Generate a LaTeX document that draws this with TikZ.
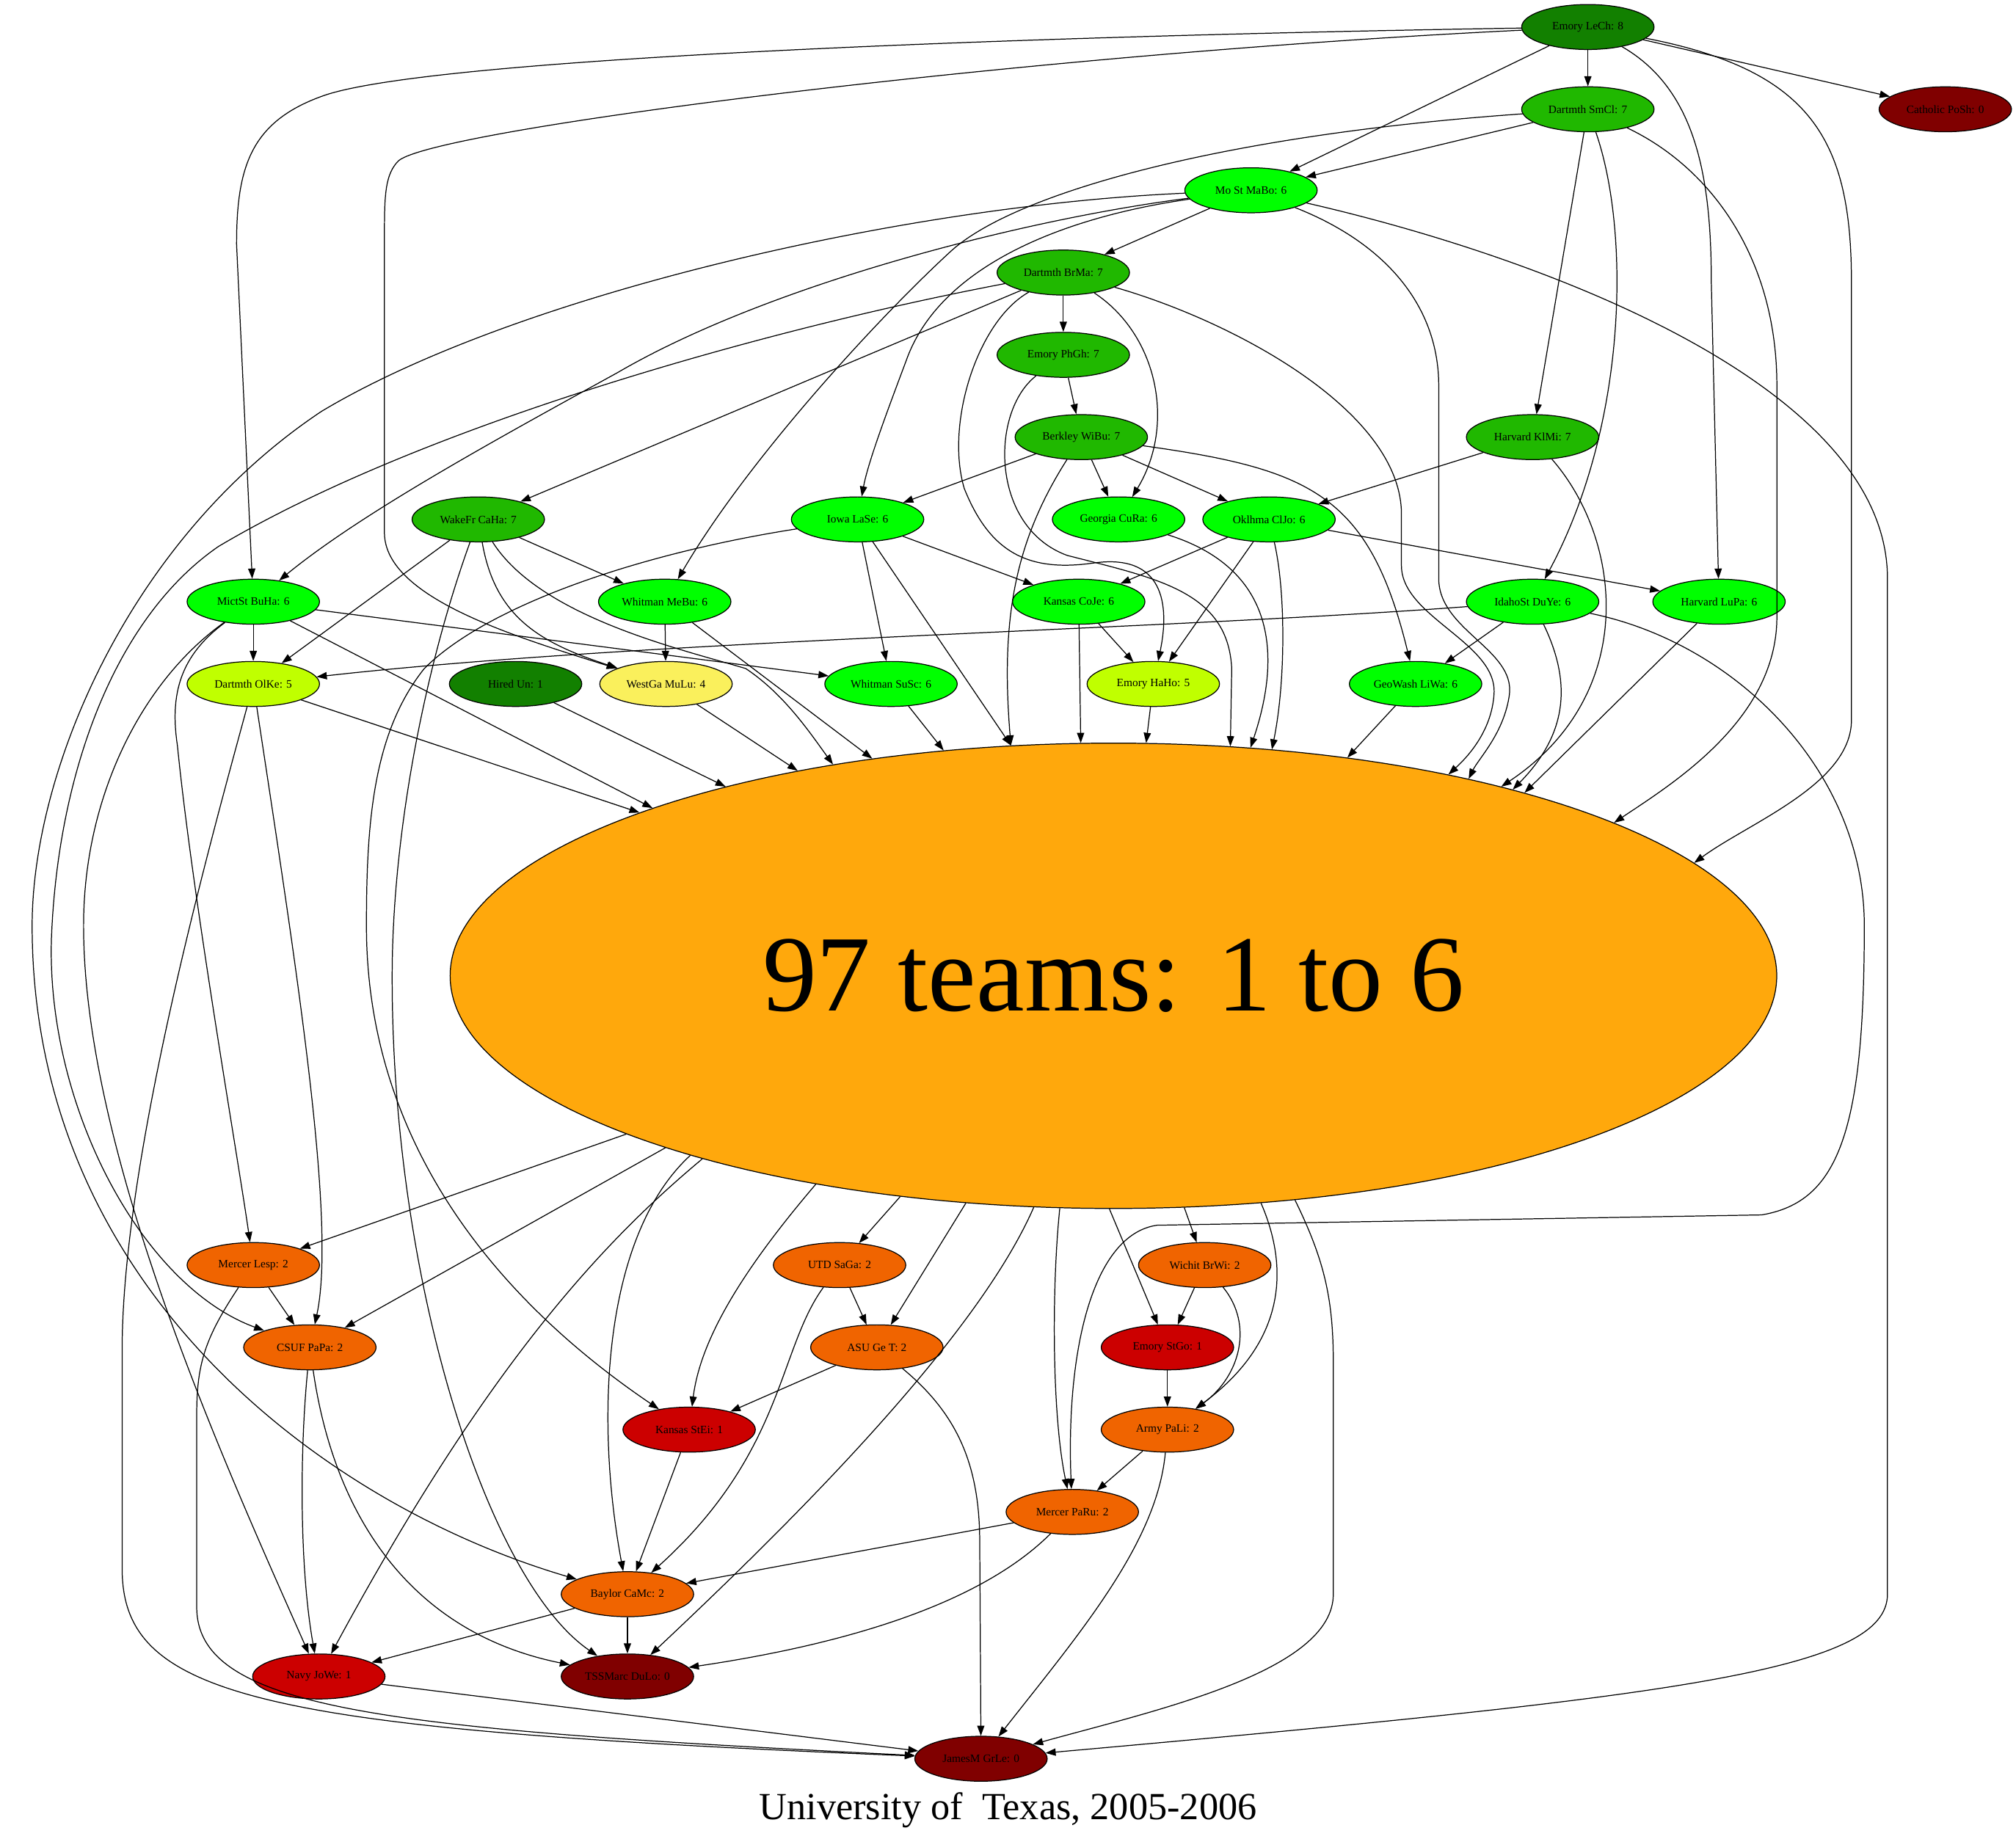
\documentclass[tikz,border=0pt]{standalone}
\usepackage{fontspec}
\setmainfont{Liberation Serif}
\usetikzlibrary{shapes.geometric,arrows.meta}
\definecolor{gvDkGreen}{RGB}{18,128,0}
\definecolor{gvGreen}{RGB}{32,184,0}
\definecolor{gvBright}{RGB}{0,255,0}
\definecolor{gvLime}{RGB}{192,255,0}
\definecolor{gvYellow}{RGB}{250,240,92}
\definecolor{gvPool}{RGB}{255,168,12}
\definecolor{gvOrange}{RGB}{240,100,0}
\definecolor{gvRed}{RGB}{204,0,0}
\definecolor{gvMaroon}{RGB}{128,0,0}
\tikzset{
	team/.style={ellipse,draw,line width=0.4pt,inner sep=0pt,minimum width=2.06cm,minimum height=0.70cm,font=\fontsize{5}{6}\selectfont},
	beat/.style={line width=0.4pt,-{Triangle[length=4.5pt,width=3.2pt]}},
}
\begin{document}
\begin{tikzpicture}[x=0.02cm,y=-0.02cm]
	\useasboundingbox (0,0) rectangle (1568,1430);

	\foreach \n/\x/\y/\c/\t in {
		lech/1235/21/gvDkGreen/Emory LeCh: 8, posh/1513/85/gvMaroon/Catholic PoSh: 0,
		smcl/1235/85/gvGreen/Dartmth SmCl: 7, mabo/973/148/gvBright/Mo St MaBo: 6,
		brma/827/212/gvGreen/Dartmth BrMa: 7, phgh/827/276/gvGreen/Emory PhGh: 7,
		wibu/841/340/gvGreen/Berkley WiBu: 7, klmi/1192/340/gvGreen/Harvard KlMi: 7,
		caha/372/404/gvGreen/WakeFr CaHa: 7, lase/667/404/gvBright/Iowa LaSe: 6,
		cura/870/404/gvBright/Georgia CuRa: 6, cljo/987/404/gvBright/Oklhma ClJo: 6,
		buha/197/468/gvBright/MictSt BuHa: 6, mebu/517/468/gvBright/Whitman MeBu: 6,
		coje/839/468/gvBright/Kansas CoJe: 6, duye/1192/468/gvBright/IdahoSt DuYe: 6,
		lupa/1337/468/gvBright/Harvard LuPa: 6, olke/197/532/gvLime/Dartmth OlKe: 5,
		hun/401/532/gvDkGreen/Hired Un: 1, mulu/518/532/gvYellow/WestGa MuLu: 4,
		susc/693/532/gvBright/Whitman SuSc: 6, haho/897/532/gvLime/Emory HaHo: 5,
		liwa/1101/532/gvBright/GeoWash LiWa: 6,
		lesp/197/984/gvOrange/Mercer Lesp: 2, saga/653/984/gvOrange/UTD SaGa: 2,
		brwi/937/984/gvOrange/Wichit BrWi: 2, papa/241/1048/gvOrange/CSUF PaPa: 2,
		get/682/1048/gvOrange/ASU Ge T: 2, stgo/908/1048/gvRed/Emory StGo: 1,
		stei/536/1112/gvRed/Kansas StEi: 1, pali/908/1112/gvOrange/Army PaLi: 2,
		paru/834/1176/gvOrange/Mercer PaRu: 2, camc/488/1240/gvOrange/Baylor CaMc: 2,
		jowe/248/1304/gvRed/Navy JoWe: 1, dulo/488/1304/gvMaroon/TSSMarc DuLo: 0,
		grle/763/1368/gvMaroon/JamesM GrLe: 0}
		\node[team,fill=\c] (\n) at (\x,\y) {\t};

	\node[ellipse,draw,line width=0.4pt,fill=gvPool,inner sep=0pt,minimum width=20.64cm,minimum height=7.24cm,font=\fontsize{48}{58}\selectfont] (big) at (866,759) {97 teams: 1 to 6};
	\node[font=\fontsize{17}{20}\selectfont] (title) at (784,1408) {University of~ Texas, 2005-2006};

	\foreach \a/\b in {lech/posh, lech/smcl, lech/mabo, smcl/mabo, smcl/klmi, mabo/brma,
		brma/phgh, brma/caha, phgh/wibu, wibu/lase, wibu/cura, wibu/cljo, klmi/cljo,
		caha/olke, caha/mebu, lase/coje, lase/susc, cljo/coje, cljo/haho, cljo/lupa,
		coje/haho, buha/olke, buha/susc, mebu/mulu, duye/liwa, lesp/papa, saga/get,
		get/stei, brwi/stgo, stgo/pali, stei/camc, pali/paru, paru/camc, camc/jowe,
		camc/dulo, jowe/grle}
		\draw[beat] (\a) -- (\b);

	% into the pool
	\foreach \a/\w in {olke/161.6, buha/160.1, hun/154.2, mulu/147.3, mebu/138.4,
		susc/127.7, lase/114.4, coje/98.2, haho/82.1, liwa/43.5, lupa/24.1}
		\draw[beat] (\a) -- (big.\w);
	% out of the pool
	\foreach \w/\b in {198.6/lesp, 201.7/papa, 226.5/saga, 237.9/get, 269.4/stgo, 287/brwi}
		\draw[beat] (big.\w) -- (\b);

	\draw[beat] (lech) .. controls (1320,70) and (1331,140) .. (1331,220) -- (lupa);
	\draw[beat] (lech) .. controls (1410,55) and (1440,110) .. (1440,220) -- (1440,560) .. controls (1440,610) and (1360,640) .. (big.11.7);
	\draw[beat] (lech) .. controls (800,28) and (330,45) .. (250,75) .. controls (195,95) and (184,130) .. (184,190) -- (buha);
	\draw[beat] (lech) .. controls (800,42) and (340,100) .. (310,125) .. controls (300,135) and (299,150) .. (299,180) -- (299,415) .. controls (300,465) and (400,495) .. (mulu);

	\draw[beat] (smcl) .. controls (1268,180) and (1266,330) .. (duye);
	\draw[beat] (smcl) .. controls (1330,130) and (1382,200) .. (1382,300) -- (1382,480) .. controls (1382,560) and (1300,610) .. (big.17.7);
	\draw[beat] (smcl) .. controls (950,105) and (790,150) .. (740,195) .. controls (680,250) and (580,360) .. (mebu);

	\draw[beat] (mabo) .. controls (1200,200) and (1468,300) .. (1468,450) -- (1468,1240) .. controls (1468,1300) and (1300,1320) .. (grle);
	\draw[beat] (mabo) .. controls (1080,190) and (1119,240) .. (1119,300) -- (1119,450) .. controls (1119,490) and (1178,505) .. (1174,540) .. controls (1170,570) and (1150,590) .. (big.29.9);
	\draw[beat] (mabo) .. controls (820,170) and (730,210) .. (705,280) .. controls (690,320) and (675,360) .. (lase);
	\draw[beat] (mabo) .. controls (800,170) and (600,220) .. (480,290) .. controls (380,345) and (280,400) .. (buha);
	\draw[beat] (mabo) .. controls (700,160) and (400,230) .. (250,320) .. controls (100,420) and (25,600) .. (25,720) .. controls (25,1000) and (250,1170) .. (camc);

	\draw[beat] (brma) .. controls (900,260) and (915,330) .. (cura);
	\draw[beat] (brma) .. controls (760,250) and (735,330) .. (750,380) .. controls (770,430) and (800,445) .. (850,438) .. controls (905,430) and (910,470) .. (haho);
	\draw[beat] (brma) .. controls (960,250) and (1090,320) .. (1090,400) -- (1090,440) .. controls (1090,480) and (1165,500) .. (1162,540) .. controls (1160,570) and (1140,590) .. (big.31);
	\draw[beat] (brma) .. controls (600,255) and (330,330) .. (170,425) .. controls (90,480) and (45,600) .. (40,730) .. controls (36,860) and (110,1000) .. (papa);

	\draw[beat] (phgh) .. controls (770,320) and (770,410) .. (830,432) .. controls (900,450) and (955,460) .. (958,520) -- (big.63);
	\draw[beat] (wibu) .. controls (1020,365) and (1065,385) .. (liwa);
	\draw[beat] (wibu) .. controls (790,420) and (778,480) .. (big.114.4);
	\draw[beat] (klmi) .. controls (1262,420) and (1275,540) .. (big.26.3);
	\draw[beat] (cura) .. controls (985,440) and (1000,500) .. (big.59.1);
	\draw[beat] (cljo) .. controls (1000,460) and (1000,530) .. (big.55.9);

	\draw[beat] (duye) .. controls (1222,530) and (1220,570) .. (big.25.7);
	\draw[beat] (duye) .. controls (900,490) and (500,498) .. (olke);
	\draw[beat] (duye) .. controls (1350,500) and (1450,600) .. (1450,720) .. controls (1450,880) and (1430,935) .. (1370,945) -- (900,953) .. controls (850,960) and (829,1050) .. (paru);

	\draw[beat] (caha) .. controls (330,520) and (305,650) .. (305,760) .. controls (305,1000) and (380,1230) .. (dulo);
	\draw[beat] (caha) .. controls (385,480) and (420,500) .. (mulu);
	\draw[beat] (caha) .. controls (420,480) and (530,505) .. (580,520) .. controls (610,540) and (630,570) .. (big.143.5);
	\draw[beat] (lase) .. controls (500,430) and (380,470) .. (330,520) .. controls (290,570) and (285,640) .. (285,720) .. controls (285,900) and (400,1020) .. (stei);

	\draw[beat] (buha) .. controls (140,510) and (132,540) .. (138,580) .. controls (150,700) and (185,900) .. (lesp);
	\draw[beat] (buha) .. controls (110,530) and (65,620) .. (65,720) .. controls (65,900) and (180,1150) .. (jowe);
	\draw[beat] (olke) .. controls (230,750) and (262,950) .. (papa);
	\draw[beat] (olke) .. controls (165,650) and (95,900) .. (95,1050) -- (95,1220) .. controls (95,1320) and (200,1345) .. (grle);

	\draw[beat] (big.204.3) .. controls (470,965) and (380,1060) .. (jowe);
	\draw[beat] (big.203.1) .. controls (470,960) and (462,1100) .. (camc);
	\draw[beat] (big.215) .. controls (580,985) and (545,1040) .. (stei);
	\draw[beat] (big.251.3) .. controls (760,1040) and (620,1180) .. (dulo);
	\draw[beat] (big.257.5) .. controls (818,1000) and (818,1100) .. (paru);
	\draw[beat] (big.303.8) .. controls (1000,980) and (1005,1040) .. (pali);
	\draw[beat] (big.309.2) .. controls (1030,980) and (1037,1010) .. (1037,1060) -- (1037,1240) .. controls (1037,1300) and (900,1330) .. (grle);

	\draw[beat] (lesp) .. controls (160,1040) and (153,1060) .. (153,1100) -- (153,1250) .. controls (153,1330) and (300,1345) .. (grle);
	\draw[beat] (papa) .. controls (233,1130) and (233,1220) .. (jowe);
	\draw[beat] (papa) .. controls (260,1180) and (320,1270) .. (dulo);
	\draw[beat] (saga) .. controls (605,1050) and (610,1130) .. (camc);
	\draw[beat] (get) .. controls (745,1100) and (762,1140) .. (762,1200) -- (grle);
	\draw[beat] (brwi) .. controls (975,1030) and (965,1070) .. (pali);
	\draw[beat] (pali) .. controls (900,1200) and (840,1270) .. (grle);
	\draw[beat] (paru) .. controls (760,1250) and (650,1280) .. (dulo);
\end{tikzpicture}
\end{document}
